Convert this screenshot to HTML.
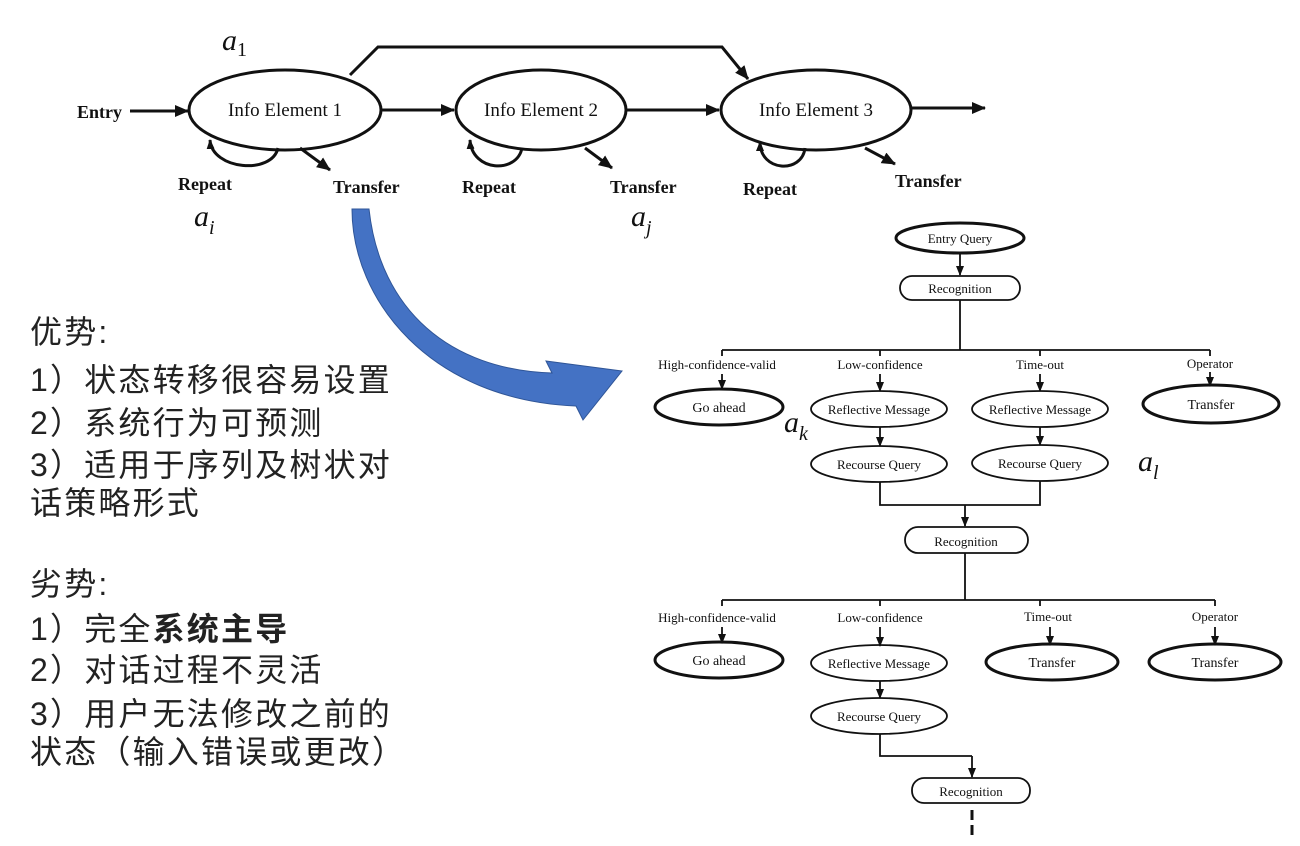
<!DOCTYPE html>
<html><head><meta charset="utf-8"><style>
html,body{margin:0;padding:0;background:#fff;width:1300px;height:846px;overflow:hidden}
svg{display:block}
.s{font-family:"Liberation Serif",serif;fill:#111}
.cn{font-family:"Liberation Sans","Noto Sans CJK SC",sans-serif;font-size:32px;fill:#222;letter-spacing:2.2px}
.m{font-family:"Liberation Serif",serif;font-style:italic;font-size:30px;fill:#111}
</style></head><body>
<svg width="1300" height="846" viewBox="0 0 1300 846" xmlns="http://www.w3.org/2000/svg">
<defs>
<marker id="ah" markerWidth="10" markerHeight="10" refX="9" refY="5" orient="auto" markerUnits="userSpaceOnUse"><path d="M0,1 L10,5 L0,9 Z" fill="#111"/></marker>
<marker id="ah2" markerWidth="14" markerHeight="14" refX="13" refY="7" orient="auto" markerUnits="userSpaceOnUse"><path d="M0,1 L14,7 L0,13 Z" fill="#111"/></marker>
</defs>
<g stroke="#111" stroke-width="3" fill="none">
<ellipse cx="285" cy="110" rx="96" ry="40"/>
<ellipse cx="541" cy="110" rx="85" ry="40"/>
<ellipse cx="816" cy="110" rx="95" ry="40"/>
<line x1="130" y1="111" x2="188" y2="111" marker-end="url(#ah2)"/>
<line x1="382" y1="110" x2="454" y2="110" marker-end="url(#ah2)"/>
<line x1="626" y1="110" x2="719" y2="110" marker-end="url(#ah2)"/>
<line x1="911" y1="108" x2="985" y2="108" marker-end="url(#ah2)"/>
<polyline points="350,75 378,47 722,47 748,79" marker-end="url(#ah2)"/>
<path d="M278,148 C272,175 212,170 210,140" marker-end="url(#ah)"/>
<line x1="300" y1="148" x2="330" y2="170" marker-end="url(#ah2)"/>
<path d="M522,148 C517,174 472,172 470,140" marker-end="url(#ah)"/>
<line x1="585" y1="148" x2="612" y2="168" marker-end="url(#ah2)"/>
<path d="M805,148 C802,174 760,172 760,142" marker-end="url(#ah)"/>
<line x1="865" y1="148" x2="895" y2="164" marker-end="url(#ah2)"/>
</g>
<g class="s" font-size="18" font-weight="bold">
<text x="77" y="118">Entry</text>
<text x="285" y="116" text-anchor="middle" font-weight="normal" font-size="19">Info Element 1</text>
<text x="541" y="116" text-anchor="middle" font-weight="normal" font-size="19">Info Element 2</text>
<text x="816" y="116" text-anchor="middle" font-weight="normal" font-size="19">Info Element 3</text>
<text x="178" y="190">Repeat</text>
<text x="333" y="193">Transfer</text>
<text x="462" y="193">Repeat</text>
<text x="610" y="193">Transfer</text>
<text x="743" y="195">Repeat</text>
<text x="895" y="187">Transfer</text>
</g>
<text class="m" x="222" y="50">a<tspan font-size="20" font-style="normal" dy="6">1</tspan></text>
<text class="m" x="194" y="226">a<tspan font-size="20" dy="8">i</tspan></text>
<text class="m" x="631" y="226">a<tspan font-size="20" dy="8">j</tspan></text>
<path d="M352,209 C352,300 430,400 576,406 L583,420 L622,371 L546,361 L552,373 C450,370 380,310 369,209 Z" fill="#4472c4" stroke="#2f5597" stroke-width="1"/>
<g class="cn">
<text x="30" y="343">优势:</text>
<text x="30" y="391">1）状态转移很容易设置</text>
<text x="30" y="434">2）系统行为可预测</text>
<text x="30" y="476">3）适用于序列及树状对</text>
<text x="30" y="514">话策略形式</text>
<text x="30" y="595">劣势:</text>
<text x="30" y="640">1）完全<tspan font-weight="bold">系统主导</tspan></text>
<text x="30" y="681">2）对话过程不灵活</text>
<text x="30" y="725">3）用户无法修改之前的</text>
<text x="30" y="763">状态（输入错误或更改）</text>
</g>
<g stroke="#111" fill="none" stroke-width="1.8">
<ellipse cx="960" cy="238" rx="64" ry="15" stroke-width="3"/>
<line x1="960" y1="253" x2="960" y2="275" marker-end="url(#ah)"/>
<rect x="900" y="276" width="120" height="24" rx="12"/>
<line x1="960" y1="300" x2="960" y2="350"/>
<line x1="722" y1="350" x2="1210" y2="350"/>
<line x1="722" y1="350" x2="722" y2="356"/><line x1="880" y1="350" x2="880" y2="356"/><line x1="1040" y1="350" x2="1040" y2="356"/><line x1="1210" y1="350" x2="1210" y2="356"/>
<line x1="722" y1="374" x2="722" y2="389" marker-end="url(#ah)"/>
<line x1="880" y1="374" x2="880" y2="391" marker-end="url(#ah)"/>
<line x1="1040" y1="374" x2="1040" y2="391" marker-end="url(#ah)"/>
<line x1="1210" y1="372" x2="1210" y2="386" marker-end="url(#ah)"/>
<ellipse cx="719" cy="407" rx="64" ry="18" stroke-width="3"/>
<ellipse cx="879" cy="409" rx="68" ry="18"/>
<ellipse cx="1040" cy="409" rx="68" ry="18"/>
<ellipse cx="1211" cy="404" rx="68" ry="19" stroke-width="3"/>
<line x1="880" y1="427" x2="880" y2="446" marker-end="url(#ah)"/>
<line x1="1040" y1="427" x2="1040" y2="445" marker-end="url(#ah)"/>
<ellipse cx="879" cy="464" rx="68" ry="18"/>
<ellipse cx="1040" cy="463" rx="68" ry="18"/>
<polyline points="880,482 880,505 1040,505 1040,481"/>
<line x1="965" y1="505" x2="965" y2="526" marker-end="url(#ah)"/>
<rect x="905" y="527" width="123" height="26" rx="13"/>
<line x1="965" y1="553" x2="965" y2="600"/>
<line x1="722" y1="600" x2="1215" y2="600"/>
<line x1="722" y1="600" x2="722" y2="606"/><line x1="880" y1="600" x2="880" y2="606"/><line x1="1040" y1="600" x2="1040" y2="606"/><line x1="1215" y1="600" x2="1215" y2="606"/>
<line x1="722" y1="627" x2="722" y2="643" marker-end="url(#ah)"/>
<line x1="880" y1="627" x2="880" y2="646" marker-end="url(#ah)"/>
<line x1="1050" y1="627" x2="1050" y2="645" marker-end="url(#ah)"/>
<line x1="1215" y1="627" x2="1215" y2="645" marker-end="url(#ah)"/>
<ellipse cx="719" cy="660" rx="64" ry="18" stroke-width="3"/>
<ellipse cx="879" cy="663" rx="68" ry="18"/>
<ellipse cx="1052" cy="662" rx="66" ry="18" stroke-width="3"/>
<ellipse cx="1215" cy="662" rx="66" ry="18" stroke-width="3"/>
<line x1="880" y1="681" x2="880" y2="698" marker-end="url(#ah)"/>
<ellipse cx="879" cy="716" rx="68" ry="18"/>
<polyline points="880,734 880,756 972,756"/>
<line x1="972" y1="756" x2="972" y2="777" marker-end="url(#ah)"/>
<rect x="912" y="778" width="118" height="25" rx="12"/>
<line x1="972" y1="810" x2="972" y2="836" stroke-width="3" stroke-dasharray="10,5"/>
</g>
<g class="s" font-size="13" text-anchor="middle">
<text x="960" y="243">Entry Query</text>
<text x="960" y="293">Recognition</text>
<text x="717" y="369">High-confidence-valid</text>
<text x="880" y="369">Low-confidence</text>
<text x="1040" y="369">Time-out</text>
<text x="1210" y="368">Operator</text>
<text x="719" y="412" font-size="14">Go ahead</text>
<text x="879" y="414">Reflective Message</text>
<text x="1040" y="414">Reflective Message</text>
<text x="1211" y="409" font-size="14">Transfer</text>
<text x="879" y="469">Recourse Query</text>
<text x="1040" y="468">Recourse Query</text>
<text x="966" y="546">Recognition</text>
<text x="717" y="622">High-confidence-valid</text>
<text x="880" y="622">Low-confidence</text>
<text x="1048" y="621">Time-out</text>
<text x="1215" y="621">Operator</text>
<text x="719" y="665" font-size="14">Go ahead</text>
<text x="879" y="668">Reflective Message</text>
<text x="1052" y="667" font-size="14">Transfer</text>
<text x="1215" y="667" font-size="14">Transfer</text>
<text x="879" y="721">Recourse Query</text>
<text x="971" y="796">Recognition</text>
</g>
<text class="m" x="784" y="432">a<tspan font-size="20" dy="8">k</tspan></text>
<text class="m" x="1138" y="471">a<tspan font-size="20" dy="8">l</tspan></text>
</svg>
</body></html>
